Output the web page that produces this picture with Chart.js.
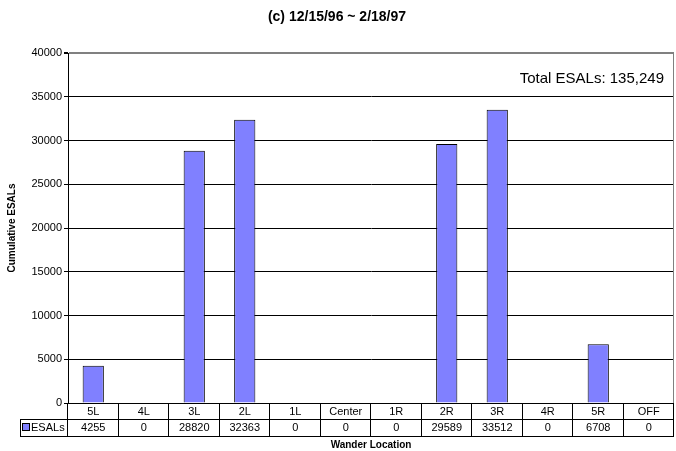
<!DOCTYPE html>
<html>
<head>
<meta charset="utf-8">
<script src="https://cdn.jsdelivr.net/npm/chart.js@4.4.0/dist/chart.umd.min.js"></script>
<style>
  html, body { margin: 0; padding: 0; background: #fff; }
  #wrap { width: 676px; height: 451px; }
</style>
</head>
<body>
<div id="wrap"><canvas id="grafica"></canvas></div>
<script>
const ubicaciones = ['5L', '4L', '3L', '2L', '1L', 'Center', '1R', '2R', '3R', '4R', '5R', 'OFF'];
const esals = [4255, 0, 28820, 32363, 0, 0, 0, 29589, 33512, 0, 6708, 0];
const serieNombre = 'ESALs';
const totalTexto = 'Total ESALs: 135,249';

const fuente = "'Liberation Sans', Arial, sans-serif";

// tabla de datos bajo el eje X
const tablaPlugin = {
    id: 'tabla',
    afterDraw(chart) {
        const ctx = chart.ctx;
        const x = chart.scales.x;
        const area = chart.chartArea;
        const n = ubicaciones.length;
        const ancho = (area.right - area.left) / n;
        const y0 = area.bottom, y1 = y0 + 16, y2 = y1 + 17;
        const izq = 20;

        ctx.save();
        // borde derecho gris
        ctx.strokeStyle = '#808080';
        ctx.lineWidth = 1;
        ctx.beginPath();
        ctx.moveTo(area.right - 0.5, area.top);
        ctx.lineTo(area.right - 0.5, area.bottom);
        ctx.stroke();

        ctx.strokeStyle = '#000';
        ctx.beginPath();
        ctx.moveTo(area.left, y0 + 0.5); ctx.lineTo(area.right, y0 + 0.5);
        ctx.moveTo(izq, y1 + 0.5); ctx.lineTo(area.right, y1 + 0.5);
        ctx.moveTo(izq, y2 + 0.5); ctx.lineTo(area.right, y2 + 0.5);
        ctx.moveTo(izq + 0.5, y1); ctx.lineTo(izq + 0.5, y2);
        for (let i = 0; i <= n; i++) {
            const px = Math.round(area.left + i * ancho) - 0.5;
            ctx.moveTo(px, y0); ctx.lineTo(px, y2);
        }
        ctx.stroke();

        ctx.fillStyle = '#000';
        ctx.font = '11px ' + fuente;
        ctx.textAlign = 'center';
        ctx.textBaseline = 'middle';
        for (let i = 0; i < n; i++) {
            const cx = x.getPixelForValue(i);
            ctx.fillText(ubicaciones[i], cx, y0 + 8.5);
            ctx.fillText(String(esals[i]), cx, y1 + 9);
        }

        // leyenda en la celda izquierda
        ctx.fillStyle = '#8080ff';
        ctx.fillRect(23, y1 + 5, 6, 6);
        ctx.strokeStyle = '#000';
        ctx.strokeRect(22.5, y1 + 4.5, 7, 7);
        ctx.fillStyle = '#000';
        ctx.textAlign = 'left';
        ctx.fillText(serieNombre, 31, y1 + 9);

        // titulo eje X
        ctx.font = 'bold 10px ' + fuente;
        ctx.textAlign = 'center';
        ctx.fillText('Wander Location', (area.left + area.right) / 2, y2 + 9);

        // total
        ctx.font = '15px ' + fuente;
        ctx.textAlign = 'right';
        ctx.fillText(totalTexto, 664, 79);
        ctx.restore();
    }
};

const ctx = document.getElementById('grafica').getContext('2d');
new Chart(ctx, {
    type: 'bar',
    data: {
        labels: ubicaciones,
        datasets: [{
            label: serieNombre,
            data: esals,
            backgroundColor: '#8080ff',
            borderColor: '#000',
            borderWidth: 1,
            categoryPercentage: 1,
            barPercentage: 0.42
        }]
    },
    options: {
        responsive: true,
        maintainAspectRatio: false,
        animation: false,
        layout: { padding: { left: 0, right: 2, top: 0, bottom: 0 } },
        plugins: {
            legend: { display: false },
            tooltip: { enabled: false },
            title: {
                display: true,
                text: '(c) 12/15/96 ~ 2/18/97',
                color: '#000',
                font: { family: fuente, size: 14, weight: 'bold', lineHeight: 1.2 },
                padding: { top: 9, bottom: 27.2 }
            }
        },
        scales: {
            x: {
                ticks: { display: false },
                grid: { display: false },
                border: { display: false },
                afterFit: s => { s.height = 48; }
            },
            y: {
                min: 0,
                max: 40000,
                ticks: {
                    stepSize: 5000,
                    color: '#000',
                    font: { family: fuente, size: 11 },
                    padding: 2,
                    callback: v => String(v)
                },
                grid: {
                    color: c => (c.tick && c.tick.value === 40000 ? '#808080' : '#000'),
                    lineWidth: c => (c.tick && c.tick.value === 40000 ? 2 : 1),
                    tickLength: 4,
                    tickColor: '#000'
                },
                border: { color: '#000', width: 1 },
                title: {
                    display: true,
                    text: 'Cumulative ESALs',
                    color: '#000',
                    font: { family: fuente, size: 10, weight: 'bold' },
                    padding: { top: 6, bottom: 6 }
                },
                afterFit: s => { s.width = 68; }
            }
        }
    },
    plugins: [tablaPlugin]
});
</script>
</body>
</html>
